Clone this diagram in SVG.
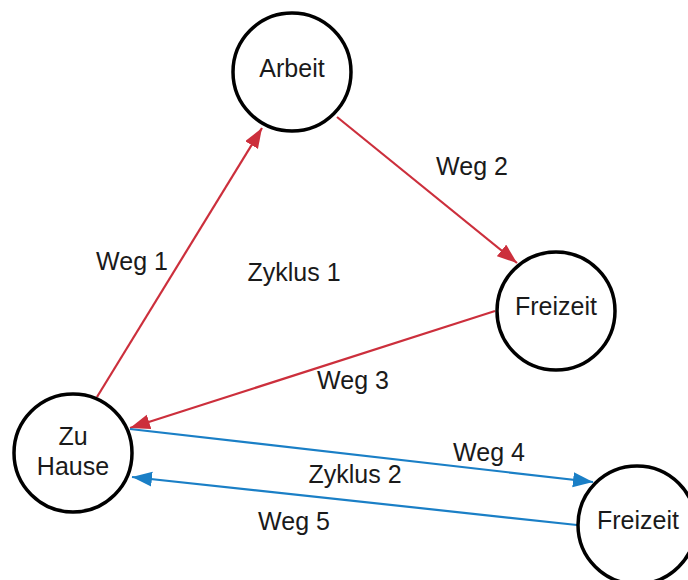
<svg xmlns="http://www.w3.org/2000/svg" width="688" height="580" viewBox="0 0 688 580">
<style>
.node{fill:#fff;stroke:#000;stroke-width:3.5}
text{font-family:"Liberation Sans",Arial,sans-serif;font-size:25px;fill:#1a1a1a;text-anchor:middle}
.red{stroke:#cc2f3c;stroke-width:2.2;fill:none}
.blue{stroke:#1a7fc6;stroke-width:2.2;fill:none}
</style>
<defs>
<marker id="ar" markerUnits="userSpaceOnUse" markerWidth="22" markerHeight="16" refX="20" refY="7.5" orient="auto"><path d="M0,0 L20,7.5 L0,15 z" fill="#cc2f3c"/></marker>
<marker id="ab" markerUnits="userSpaceOnUse" markerWidth="22" markerHeight="16" refX="20" refY="7.5" orient="auto"><path d="M0,0 L20,7.5 L0,15 z" fill="#1a7fc6"/></marker>
</defs>
<rect width="688" height="580" fill="#fff"/>
<g id="connectors">
<line class="red" x1="97" y1="397" x2="262" y2="128" marker-end="url(#ar)"/>
<line class="red" x1="337" y1="117" x2="517" y2="263" marker-end="url(#ar)"/>
<line class="red" x1="495" y1="311" x2="130" y2="428" marker-end="url(#ar)"/>
<line class="blue" x1="130" y1="429" x2="593" y2="482" marker-end="url(#ab)"/>
<line class="blue" x1="577" y1="525" x2="132" y2="477" marker-end="url(#ab)"/>
</g>
<g id="labels">
<text x="132" y="270">Weg 1</text>
<text x="472" y="175">Weg 2</text>
<text x="353" y="389">Weg 3</text>
<text x="489" y="461">Weg 4</text>
<text x="294" y="530">Weg 5</text>
<text x="294" y="281">Zyklus 1</text>
<text x="355" y="483">Zyklus 2</text>
</g>
<g id="arbeit"><circle class="node" cx="292" cy="72" r="59"/><text x="292" y="77">Arbeit</text></g>
<g id="freizeit1"><circle class="node" cx="556" cy="311" r="59"/><text x="556" y="315">Freizeit</text></g>
<g id="zuhause"><circle class="node" cx="73" cy="453" r="59"/><text x="73" y="445">Zu</text><text x="73" y="475">Hause</text></g>
<g id="freizeit2"><circle class="node" cx="637" cy="525" r="59"/><text x="638" y="529">Freizeit</text></g>
</svg>
